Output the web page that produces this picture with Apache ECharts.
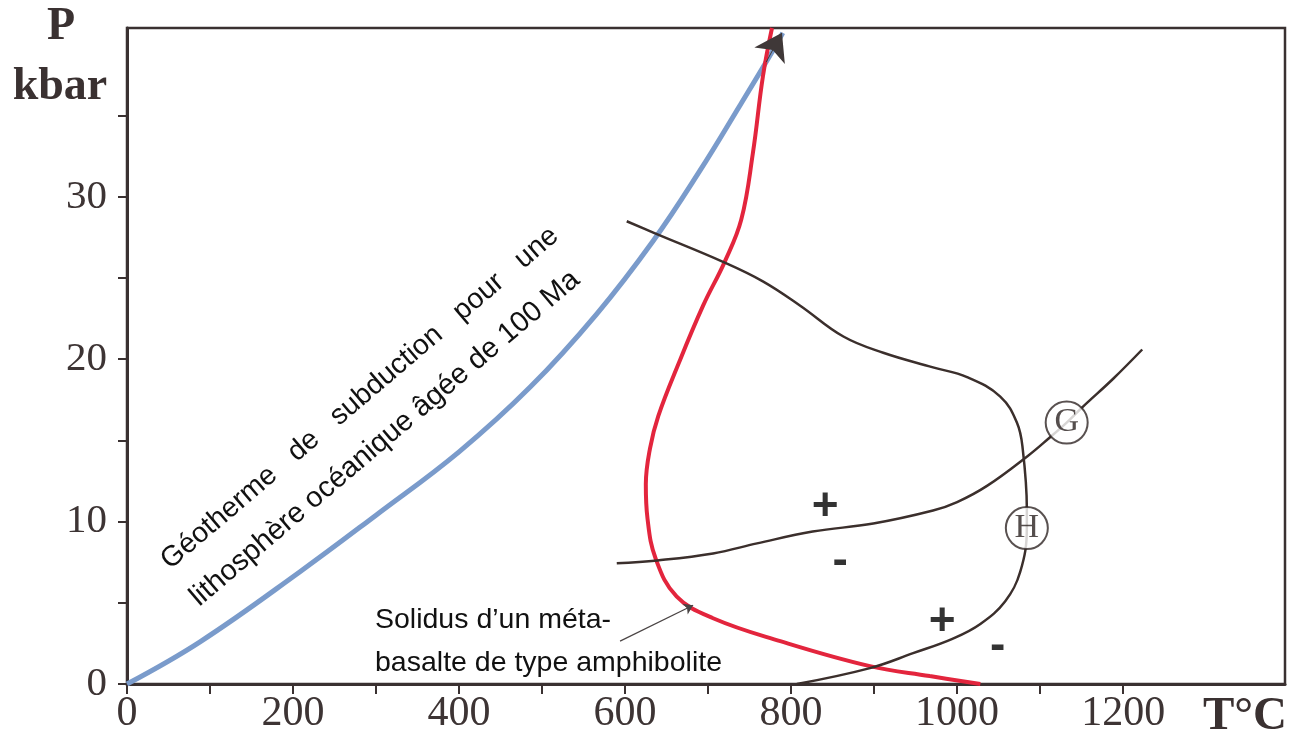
<!DOCTYPE html>
<html>
<head>
<meta charset="utf-8">
<script src="https://cdn.jsdelivr.net/npm/echarts@6/dist/echarts.min.js"></script>
<style>html,body{margin:0;padding:0;background:#fff;}#c{width:1296px;height:735px;}</style>
</head>
<body>
<div id="c"></div>
<script>
// ---- data (T in °C, P in kbar) ----
const xTickValues = [0,100,200,300,400,500,600,700,800,900,1000,1100,1200];
const xLabelValues = [0,200,400,600,800,1000,1200];
const yTickValues = [0,5,10,15,20,25,30,35];
const yLabelValues = [0,10,20,30];

// subduction geotherm (100 Ma oceanic lithosphere)
const geoT = [0, 88, 208, 300, 400, 486, 566, 634, 690, 738, 778, 790];
const geoP = [0, 2.6, 6.9, 10.4, 14.3, 18.3, 22.8, 27.3, 31.6, 35.6, 39.0, 40.1];

// amphibolite meta-basalt solidus
const solT = [777, 766, 754, 740, 720, 694, 665, 640, 630, 625, 627, 637, 662, 706, 787, 895, 967, 1028];
const solP = [40.4, 37.4, 32.7, 28.6, 26.0, 23.3, 19.8, 16.5, 14.5, 12.3, 10.2, 7.7, 5.4, 4.05, 2.64, 1.1, 0.49, 0];

// curve H
const hT = [602, 634, 718, 766, 811, 863, 911, 971, 1012, 1052, 1072, 1079, 1084, 1084, 1076, 1058, 1028, 995, 947, 895, 807];
const hP = [28.5, 27.8, 26.0, 24.8, 23.3, 21.4, 20.4, 19.5, 18.9, 17.7, 16.1, 14.5, 10.8, 9.6, 6.9, 5.1, 3.7, 2.8, 1.9, 0.98, 0];

// curve G
const gT = [590, 639, 706, 759, 826, 899, 971, 1000, 1036, 1084, 1112, 1132, 1152, 1188, 1223];
const gP = [7.43, 7.61, 8.04, 8.66, 9.39, 9.88, 10.68, 11.2, 12.2, 14.0, 15.2, 16.1, 17.1, 18.8, 20.6];

// curve labels (circles)
const circleNames = ['G', 'H'];
const circleT = [1132, 1084];
const circleP = [16.1, 9.6];

// +/- signs
const signText = ['+', '-', '+', '-'];
const signT = [841, 859, 982, 1049];
const signP = [10.9, 7.55, 3.8, 2.33];

// annotation arrow for the solidus label
const noteArrowT = [594, 682];
const noteArrowP = [2.64, 4.85];
// arrowhead at the end of the geotherm
const geoArrowT = [770, 789];
const geoArrowP = [38.3, 40.1];

const zip = (a, b) => a.map((v, i) => [v, b[i]]);

const AX = '#3a3131';
const chart = echarts.init(document.getElementById('c'), null, {renderer: 'canvas'});
const serif = 'Liberation Serif';
const sans = 'Liberation Sans';
const ang = 40.4 * Math.PI / 180;

chart.setOption({
  animation: false,
  backgroundColor: '#ffffff',
  grid: {left: 127, top: 28, right: 11, bottom: 49, show: true, borderColor: AX, borderWidth: 2.5, containLabel: false},
  xAxis: {
    type: 'value', min: 0, max: 1395,
    axisLine: {show: true, onZero: false, lineStyle: {color: AX, width: 3}},
    axisTick: {show: true, length: 10, customValues: xTickValues, lineStyle: {color: AX, width: 2}},
    axisLabel: {customValues: xLabelValues, formatter: v => String(v), color: '#3d3434', fontFamily: serif, fontSize: 42, margin: 9},
    splitLine: {show: false}
  },
  yAxis: {
    type: 'value', min: 0, max: 40.4,
    axisLine: {show: true, onZero: false, lineStyle: {color: AX, width: 3}},
    axisTick: {show: true, length: 9, customValues: yTickValues, lineStyle: {color: AX, width: 2}},
    axisLabel: {customValues: yLabelValues, formatter: v => String(v), color: '#3d3434', fontFamily: serif, fontSize: 41, margin: 20},
    splitLine: {show: false}
  },
  series: [
    {type: 'line', data: zip(geoT, geoP), smooth: 0.4, symbol: 'none', clip: false,
     lineStyle: {color: '#7a9bcb', width: 5}, z: 3},
    {type: 'line', data: zip(solT, solP), smooth: 0.4, symbol: 'none', clip: false,
     lineStyle: {color: '#e3253d', width: 4}, z: 3},
    {type: 'line', data: zip(hT, hP), smooth: 0.4, symbol: 'none',
     lineStyle: {color: '#3b2f2c', width: 2.5}, z: 4},
    {type: 'line', data: zip(gT, gP), smooth: 0.4, symbol: 'none',
     lineStyle: {color: '#3b2f2c', width: 2.5}, z: 4},
    {type: 'lines', coordinateSystem: 'cartesian2d', z: 6,
     symbol: ['none', 'arrow'], symbolSize: 26,
     lineStyle: {color: '#3f3838', width: 1, opacity: 1},
     data: [{coords: zip(geoArrowT, geoArrowP)}]},
    {type: 'lines', coordinateSystem: 'cartesian2d', z: 6,
     symbol: ['none', 'arrow'], symbolSize: 9,
     lineStyle: {color: '#4a4444', width: 1.2, opacity: 1},
     data: [{coords: zip(noteArrowT, noteArrowP)}]},
    {type: 'scatter', z: 8, symbol: 'circle', symbolSize: 42,
     itemStyle: {color: '#ffffff', borderColor: '#2f2624', borderWidth: 2},
     label: {show: true, position: 'inside', color: '#2a2220', fontFamily: serif, fontSize: 34,
             formatter: p => circleNames[p.dataIndex]},
     data: zip(circleT, circleP)},
    {type: 'scatter', z: 8, symbolSize: 1, itemStyle: {color: 'rgba(0,0,0,0)'},
     label: {show: true, position: 'inside', color: '#000', fontFamily: sans, fontWeight: 'bold', fontSize: 46,
             formatter: p => signText[p.dataIndex]},
     data: zip(signT, signP)}
  ],
  graphic: [
    {type: 'text', x: 61, y: 27, style: {text: 'P', font: 'bold 46px "Liberation Serif"', fill: '#3a3131', align: 'center', verticalAlign: 'middle'}},
    {type: 'text', x: 60, y: 87, style: {text: 'kbar', font: 'bold 46px "Liberation Serif"', fill: '#3a3131', align: 'center', verticalAlign: 'middle'}},
    {type: 'text', x: 1245, y: 717, style: {text: 'T°C', font: 'bold 47px "Liberation Serif"', fill: '#3a3131', align: 'center', verticalAlign: 'middle'}},
    {type: 'text', x: 165, y: 564, rotation: ang,
     style: {text: 'Géotherme   de   subduction   pour   une', font: '28.5px "Liberation Sans"', fill: '#111', align: 'left', verticalAlign: 'middle'}},
    {type: 'text', x: 194, y: 601, rotation: ang,
     style: {text: 'lithosphère océanique âgée de 100 Ma', font: '29px "Liberation Sans"', fill: '#111', align: 'left', verticalAlign: 'middle'}},
    {type: 'text', x: 375, y: 620, style: {text: 'Solidus d’un méta-', font: '28.5px "Liberation Sans"', fill: '#111', align: 'left', verticalAlign: 'middle'}},
    {type: 'text', x: 375, y: 663, style: {text: 'basalte de type amphibolite', font: '28.5px "Liberation Sans"', fill: '#111', align: 'left', verticalAlign: 'middle'}}
  ]
});
</script>
</body>
</html>
